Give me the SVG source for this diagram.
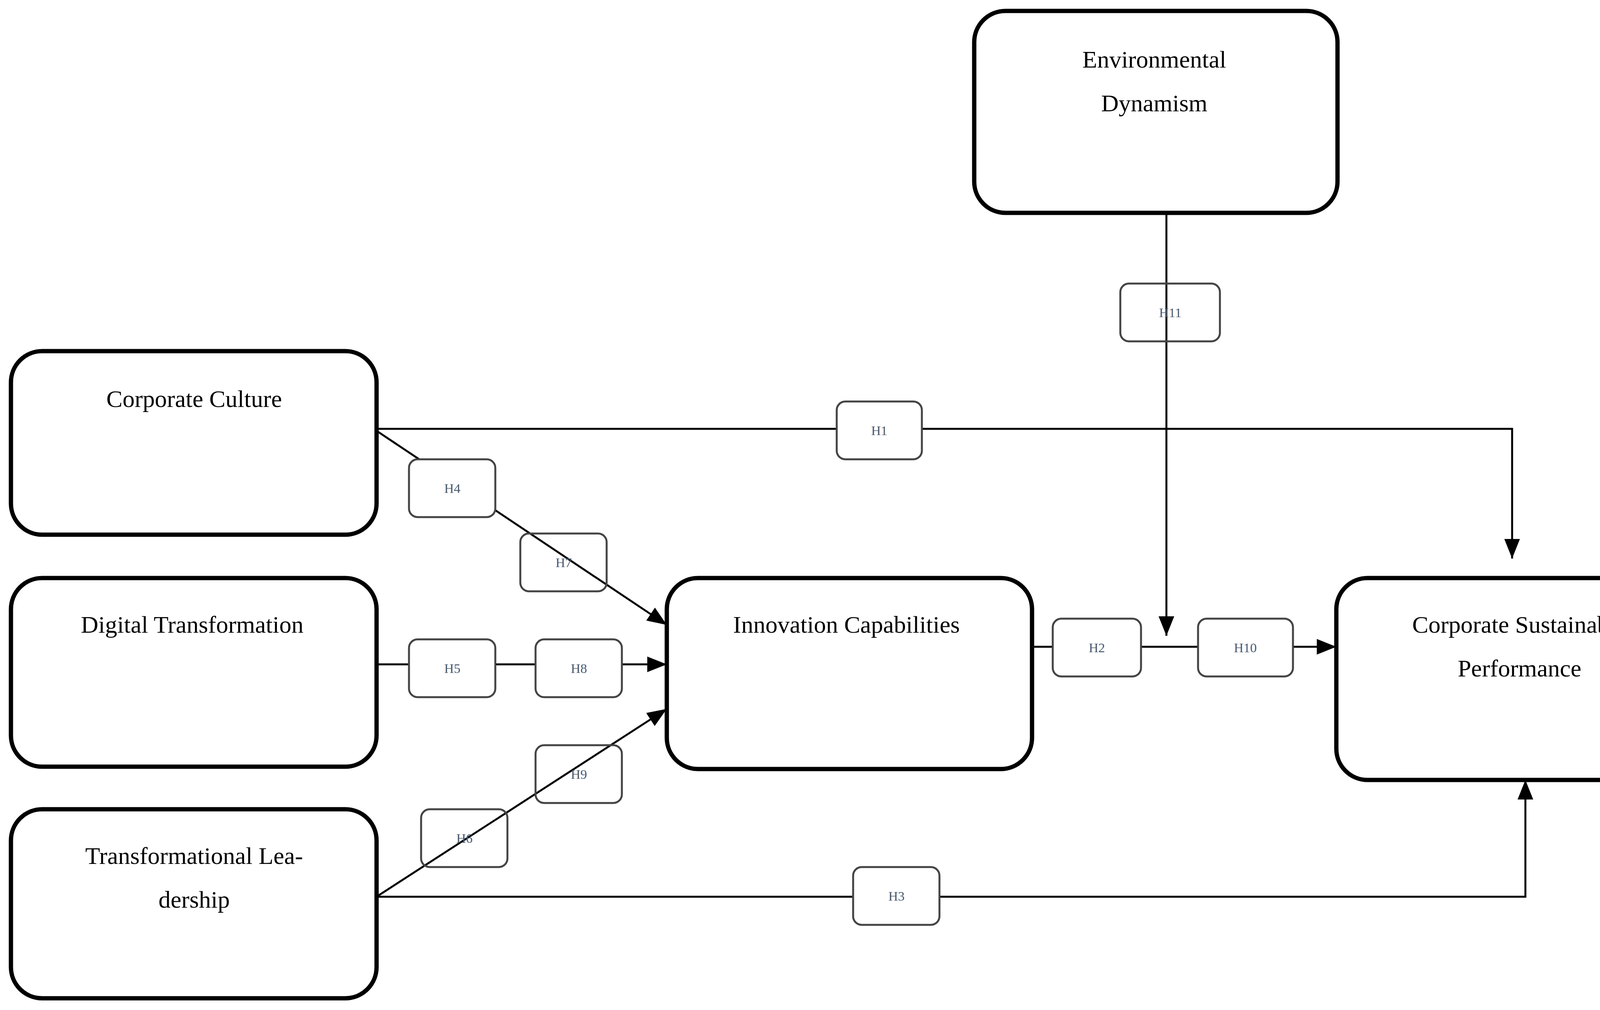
<svg xmlns="http://www.w3.org/2000/svg" width="4379" height="2586" viewBox="0 0 4379 2586">
<style>
.node{fill:#fff;stroke:#000;stroke-width:11}
.nt{font-family:"Liberation Serif",serif;font-size:62px;text-anchor:middle;fill:#000}
.lb{fill:#fff;stroke:#444;stroke-width:5}
.lbn{fill:none;stroke:#444;stroke-width:5}
.lt{font-family:"Liberation Serif",serif;font-size:34px;text-anchor:middle;fill:#4a5a70}
.c{fill:none;stroke:#000;stroke-width:5}
</style>
<defs><marker id="a" markerWidth="10" markerHeight="8" refX="10" refY="4" orient="auto" markerUnits="strokeWidth"><path d="M0,0L10,4L0,8z" fill="#000"/></marker></defs>
<rect width="4379" height="2586" fill="#fff"/>
<g id="connectors">
<path class="c" d="M964,1098H3871V1430" marker-end="url(#a)"/>
<path class="c" d="M964,1103L1707,1600" marker-end="url(#a)"/>
<path class="c" d="M964,1701H1707" marker-end="url(#a)"/>
<path class="c" d="M964,2296L1707,1815" marker-end="url(#a)"/>
<path class="c" d="M964,2296H3905V1997" marker-end="url(#a)"/>
<path class="c" d="M2642,1656H3421" marker-end="url(#a)"/>
<path class="c" d="M2986,545V1628" marker-end="url(#a)"/>
</g>
<g id="ed"><rect class="node" x="2494" y="28" width="930" height="517" rx="80"/><text class="nt" x="2955" y="173">Environmental</text><text class="nt" x="2955" y="285">Dynamism</text></g>
<g id="cc"><rect class="node" x="28" y="899" width="936" height="470" rx="80"/><text class="nt" x="497" y="1042">Corporate Culture</text></g>
<g id="dt"><rect class="node" x="28" y="1480" width="936" height="483" rx="80"/><text class="nt" x="492" y="1620">Digital Transformation</text></g>
<g id="tl"><rect class="node" x="28" y="2072" width="936" height="484" rx="80"/><text class="nt" x="497" y="2212">Transformational Lea-</text><text class="nt" x="497" y="2324">dership</text></g>
<g id="ic"><rect class="node" x="1707" y="1480" width="935" height="489" rx="80"/><text class="nt" x="2167" y="1620">Innovation Capabilities</text></g>
<g id="csp"><rect class="node" x="3421" y="1480" width="936" height="517" rx="80"/><text class="nt" x="3890" y="1620">Corporate Sustainable</text><text class="nt" x="3890" y="1732">Performance</text></g>
<g id="labels">
<g id="h11"><rect class="lbn" x="2868" y="726" width="255" height="148" rx="22"/><text class="lt" x="2996" y="812">H11</text></g>
<g id="h1"><rect class="lb" x="2142" y="1028" width="218" height="148" rx="22"/><text class="lt" x="2251" y="1114">H1</text></g>
<g id="h4"><rect class="lb" x="1047" y="1176" width="221" height="148" rx="22"/><text class="lt" x="1158" y="1262">H4</text></g>
<g id="h7"><rect class="lbn" x="1332" y="1366" width="221" height="148" rx="22"/><text class="lt" x="1443" y="1452">H7</text></g>
<g id="h5"><rect class="lb" x="1047" y="1637" width="221" height="148" rx="22"/><text class="lt" x="1158" y="1723">H5</text></g>
<g id="h8"><rect class="lb" x="1371" y="1637" width="221" height="148" rx="22"/><text class="lt" x="1482" y="1723">H8</text></g>
<g id="h9"><rect class="lbn" x="1371" y="1908" width="221" height="148" rx="22"/><text class="lt" x="1482" y="1994">H9</text></g>
<g id="h6"><rect class="lbn" x="1078" y="2072" width="221" height="148" rx="22"/><text class="lt" x="1189" y="2158">H6</text></g>
<g id="h3"><rect class="lb" x="2184" y="2220" width="221" height="148" rx="22"/><text class="lt" x="2295" y="2306">H3</text></g>
<g id="h2"><rect class="lb" x="2695" y="1584" width="226" height="148" rx="22"/><text class="lt" x="2808" y="1670">H2</text></g>
<g id="h10"><rect class="lb" x="3067" y="1584" width="243" height="148" rx="22"/><text class="lt" x="3188" y="1670">H10</text></g>
</g>
</svg>
